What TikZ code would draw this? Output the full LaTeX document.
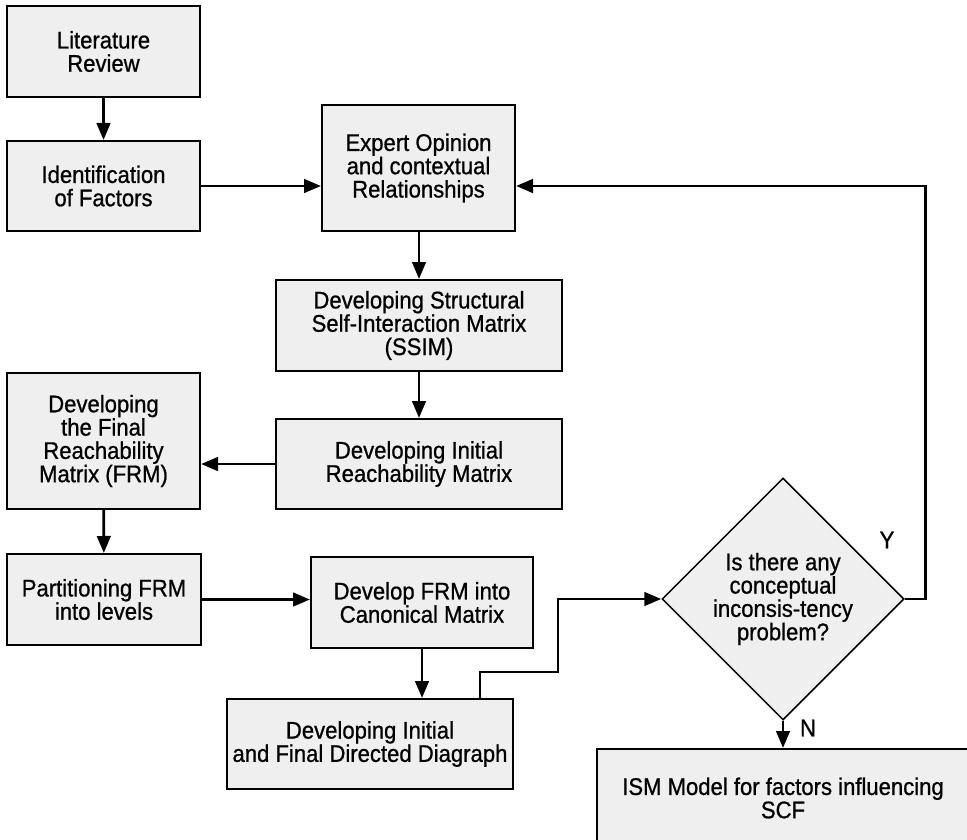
\documentclass[tikz,border=0pt]{standalone}
\usepackage{fontspec}
\setmainfont{Liberation Sans}[FakeStretch=0.92,FakeBold=0.8]
\usetikzlibrary{arrows.meta,shapes.geometric,calc}
\definecolor{boxgray}{RGB}{239,239,239}
\begin{document}
\begin{tikzpicture}[x=1pt,y=-1pt,
  txt/.style={font=\fontsize{24}{23.3}\selectfont},
  box/.style={txt, draw=black, line width=2pt, fill=boxgray, inner sep=0pt, align=center},
  dec/.style={txt, diamond, draw=black, line width=1.5pt, fill=boxgray, inner sep=0pt, align=center, minimum width=242pt, minimum height=242pt},
  arr/.style={line width=2.9pt, -{Triangle[length=17pt,width=13.5pt]}},
  lbl/.style={txt, inner sep=0pt}]
\clip (0,0) rectangle (967,840);
\fill[white] (0,0) rectangle (967,840);

\node[box, minimum width=193pt, minimum height=91pt] (lr) at (103.5,51.5) {Literature\\Review};
\node[box, minimum width=193pt, minimum height=90pt] (if) at (103.5,186) {Identification\\of Factors};
\node[box, minimum width=193pt, minimum height=126pt] (eo) at (418.5,168) {Expert Opinion\\and contextual\\Relationships};
\node[box, minimum width=286pt, minimum height=91pt] (ssim) at (419,325.5) {Developing Structural\\Self-Interaction Matrix\\(SSIM)};
\node[box, minimum width=286pt, minimum height=90pt] (irm) at (419,464) {Developing Initial\\Reachability Matrix};
\node[box, minimum width=193pt, minimum height=136pt] (frm) at (103.5,441) {Developing\\the Final\\Reachability\\Matrix (FRM)};
\node[box, minimum width=194pt, minimum height=91pt] (part) at (104,599.5) {Partitioning FRM\\into levels};
\node[box, minimum width=222pt, minimum height=91pt] (canon) at (422,602.5) {Develop FRM into\\Canonical Matrix};
\node[box, minimum width=286pt, minimum height=90pt] (did) at (370,744) {Developing Initial\\and Final Directed Diagraph};
\node[dec] (dia) at (783,599) {Is there any\\conceptual\\inconsis-tency\\problem?};
\node[box, minimum width=372pt, minimum height=98pt] (ism) at (783,798) {ISM Model for factors influencing\\SCF};
\node[lbl] (y) at (887,540) {Y};
\node[lbl] (n) at (808,728) {N};

\coordinate (k) at (558,672);

\draw[arr] (lr) -- (if);
\draw[arr] (if.east) -- (if.east -| eo.west);
\draw[arr] (eo.south -| ssim.north) -- (ssim.north);
\draw[arr] (ssim) -- (irm);
\draw[arr] (irm.west) -- (irm.west -| frm.east);
\draw[arr] (frm) -- (part);
\draw[arr] (part.east) -- (part.east -| canon.west);
\draw[arr] (canon.south) -- (canon.south |- did.north);
\draw[arr] ([xshift=110pt]did.north) |- (k) |- (dia.west);
\draw[arr] (dia.east) -- ++(21,0) |- (eo.east |- if.east);
\draw[arr] (dia.south) -- (dia.south |- ism.north);
\end{tikzpicture}
\end{document}
